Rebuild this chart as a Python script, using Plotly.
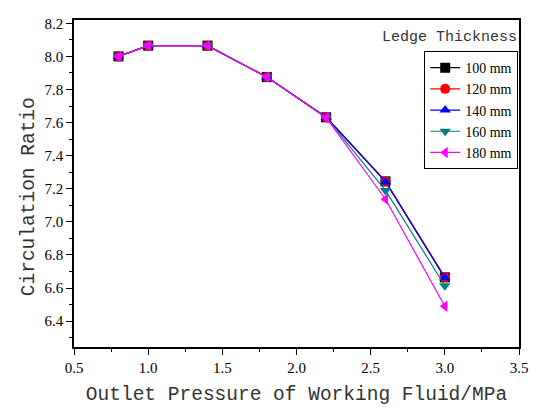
import plotly.graph_objects as go

pressure = [0.8, 1.0, 1.4, 1.8, 2.2, 2.6, 3.0]
series_names = ["100 mm", "120 mm", "140 mm", "160 mm", "180 mm"]
ratio_100 = [8.00, 8.065, 8.065, 7.875, 7.632, 7.245, 6.665]
ratio_120 = [8.00, 8.065, 8.065, 7.875, 7.632, 7.245, 6.665]
ratio_140 = [8.00, 8.065, 8.065, 7.875, 7.632, 7.243, 6.662]
ratio_160 = [8.00, 8.065, 8.065, 7.875, 7.630, 7.190, 6.614]
ratio_180 = [8.00, 8.065, 8.065, 7.875, 7.630, 7.137, 6.490]
all_ratios = [ratio_100, ratio_120, ratio_140, ratio_160, ratio_180]
colors = ["#000000", "#ff0000", "#0000ff", "#008080", "#ff00ff"]
symbols = ["square", "circle", "triangle-up", "triangle-down", "triangle-left"]

fig = go.Figure()
for name, vals, c, s in zip(series_names, all_ratios, colors, symbols):
    fig.add_trace(go.Scatter(
        x=pressure, y=vals, name=name, mode="lines+markers",
        line=dict(color=c, width=1.2),
        marker=dict(color=c, symbol=s, size=10),
    ))

fig.update_layout(
    width=536, height=409,
    margin=dict(l=74, r=8, t=20, b=61),
    plot_bgcolor="white", paper_bgcolor="white",
    showlegend=True,
    legend=dict(
        x=0.787, y=0.905, xanchor="left", yanchor="top",
        bordercolor="black", borderwidth=1, bgcolor="white",
        font=dict(family="Liberation Serif", size=14, color="black"),
        tracegroupgap=0, itemwidth=30,
    ),
    annotations=[
        dict(text="Ledge Thickness", xref="paper", yref="paper",
             x=1.0, y=0.945, xanchor="right", yanchor="middle", showarrow=False,
             font=dict(family="Liberation Mono", size=15, color="#333333")),
        dict(text="Circulation Ratio", xref="paper", yref="paper",
             x=-0.102, y=0.46, xanchor="center", yanchor="middle", showarrow=False,
             textangle=-90,
             font=dict(family="Liberation Mono", size=19.5, color="#333333")),
    ],
)
fig.update_xaxes(
    range=[0.5, 3.5], dtick=0.5, tickformat=".1f",
    showline=True, linecolor="black", linewidth=1.5, mirror=True,
    ticks="outside", ticklen=6, tickwidth=1.2, tickcolor="black",
    minor=dict(dtick=0.25, ticks="outside", ticklen=3, tickcolor="black"),
    showgrid=False, zeroline=False,
    tickfont=dict(family="Liberation Serif", size=15, color="black"),
    title=dict(text="Outlet Pressure of Working Fluid/MPa",
               font=dict(family="Liberation Mono", size=19.5, color="#333333"), standoff=12),
)
fig.update_yaxes(
    range=[6.244, 8.22], dtick=0.2, tick0=6.4, tickformat=".1f",
    showline=True, linecolor="black", linewidth=1.5, mirror=True,
    ticks="outside", ticklen=6, tickwidth=1.2, tickcolor="black",
    minor=dict(dtick=0.1, ticks="outside", ticklen=3, tickcolor="black"),
    showgrid=False, zeroline=False,
    tickfont=dict(family="Liberation Serif", size=15, color="black"),
)

fig.write_html("out.html")
